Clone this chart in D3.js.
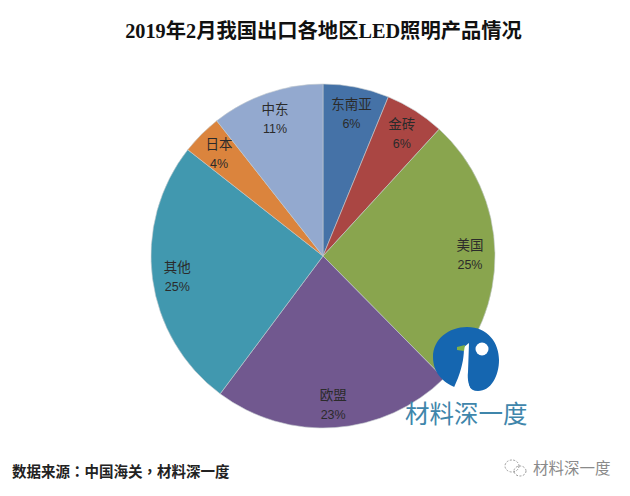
<!DOCTYPE html>
<html lang="zh">
<head>
<meta charset="UTF-8">
<script src="https://cdn.jsdelivr.net/npm/d3@7"></script>
<title>LED出口</title>
<style>
    body { margin: 0; background: #fff; }
    svg { display: block; }
    text { font-family: "Liberation Sans", "Noto Sans CJK SC", sans-serif; }
</style>
</head>
<body>
<div id="chart"></div>
<script>
const regions = ["东南亚", "金砖", "美国", "欧盟", "其他", "日本", "中东"];
// slice sizes, the printed labels are rounded
const shares = [6.2, 5.6, 25.8, 22.6, 25.4, 3.8, 10.6];
const shareLabels = ["6%", "6%", "25%", "23%", "25%", "4%", "11%"];
const sliceColors = ["#4572a7", "#aa4643", "#89a54e", "#71588f", "#4198af", "#db843d", "#93a9cf"];

const width = 630, height = 496;
const cx = 323, cy = 256, radius = 172, labelRadius = 147;

const svg = d3.select("#chart").append("svg")
    .attr("width", width)
    .attr("height", height);

svg.append("text")
    .attr("x", 323.5).attr("y", 38)
    .attr("text-anchor", "middle")
    .attr("font-size", 20.3)
    .attr("font-weight", "bold")
    .attr("fill", "#111")
    .style("font-family", '"Liberation Serif", "Noto Sans CJK SC", serif')
    .text("2019年2月我国出口各地区LED照明产品情况");

const pie = d3.pie().sort(null).value((d, i) => shares[i]);
const arc = d3.arc().innerRadius(0).outerRadius(radius);
const labelArc = d3.arc().innerRadius(labelRadius).outerRadius(labelRadius);

const arcs = pie(regions);
const g = svg.append("g").attr("transform", `translate(${cx},${cy})`);

g.selectAll("path")
    .data(arcs)
    .enter().append("path")
    .attr("d", arc)
    .attr("fill", (d, i) => sliceColors[i])
    .attr("stroke", "#c4cbcf")
    .attr("stroke-width", 0.6);

const labels = g.selectAll("g.label")
    .data(arcs)
    .enter().append("g")
    .attr("class", "label")
    .attr("transform", d => `translate(${labelArc.centroid(d)})`)
    .attr("text-anchor", "middle")
    .attr("font-size", 13.5)
    .attr("fill", "#2b2b2b");
labels.append("text").attr("y", -3).text(d => d.data);
labels.append("text").attr("y", 16).attr("font-size", 12.5).text((d, i) => shareLabels[i]);

// logo sitting on top of the pie
const logo = svg.append("g");
logo.append("path")
    .attr("fill", "#1566b0")
    .attr("d", "M467,327 C488,327 499,343 499,360 C499,376 491,391 478,391 C469,391 467,384 467,372 L468,343 L457,388 C446,384 433,375 433,357 C433,339 449,327 467,327 Z");
logo.append("path")
    .attr("fill", "#fff")
    .attr("d", "M469,343 L468,372 C467,380 469,386 472,392 L452,392 L458,378 C463,365 464,355 464,347 Z");
logo.append("path")
    .attr("fill", "#7fb04a")
    .attr("d", "M457,347 L465,345 L464,351 L457,350 Z");
logo.append("circle")
    .attr("cx", 482).attr("cy", 349).attr("r", 6.5)
    .attr("fill", "#fff");

svg.append("text")
    .attr("x", 405).attr("y", 423)
    .attr("font-size", 24.5)
    .attr("fill", "#3f86ab")
    .text("材料深一度");

// zh-TW gives the centred colon and comma of the original
svg.append("text")
    .attr("x", 12).attr("y", 477)
    .attr("lang", "zh-TW")
    .attr("font-size", 14.5)
    .attr("font-weight", "bold")
    .attr("fill", "#222")
    .style("font-family", '"Noto Sans CJK TC", sans-serif')
    .text("数据来源：中国海关，材料深一度");

// wechat watermark
const mark = svg.append("g")
    .attr("fill", "none")
    .attr("stroke", "#9a9a9a")
    .attr("stroke-dasharray", "2 1.5");
mark.append("ellipse").attr("cx", 512).attr("cy", 466).attr("rx", 7).attr("ry", 6);
mark.append("ellipse").attr("cx", 520).attr("cy", 471).attr("rx", 6).attr("ry", 5);

svg.append("text")
    .attr("x", 533).attr("y", 474)
    .attr("font-size", 15.5)
    .attr("fill", "#8a8a8a")
    .text("材料深一度");
</script>
</body>
</html>
